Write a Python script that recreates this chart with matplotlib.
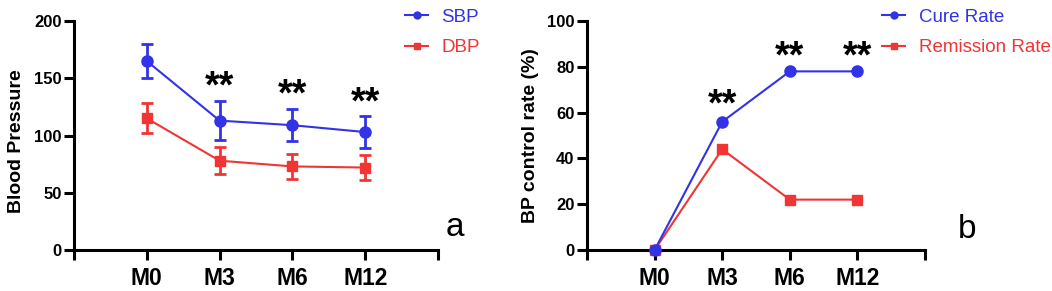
import matplotlib.pyplot as plt
from matplotlib.lines import Line2D
import numpy as np

plt.rcParams['font.family'] = ['Liberation Sans', 'DejaVu Sans']

months = ['M0', 'M3', 'M6', 'M12']

# panel a: blood pressure (mean, sd)
sbp = [165, 113, 109, 103]
sbp_err = [15, 17, 14, 14]
dbp = [115, 78, 73, 72]
dbp_err = [13, 12, 11, 11]
star_a = [None, 142, 135, 128]

# panel b: control rates (%)
cure = [0, 56, 78, 78]
remission = [0, 44, 22, 22]
star_b = [None, 63, 84, 84]

blue = '#3232e6'
red = '#f03535'

fig = plt.figure(figsize=(10.52, 2.91), dpi=100)
W, H = 1052, 291


def make_axes(x0, x1, y0, y1):
    return fig.add_axes([x0 / W, 1 - y1 / H, (x1 - x0) / W, (y1 - y0) / H])


def style(ax, ymax, step):
    x = np.arange(len(months))
    ax.set_xlim(-1, len(months))
    ax.set_ylim(0, ymax)
    ax.tick_params(axis='y', labelsize=12, width=2.2, length=7, pad=2)
    ax.tick_params(axis='x', labelsize=16.5, width=2.2, length=7, pad=5)
    ax.set_xticks(np.arange(-1, len(months) + 1))
    ax.set_xticklabels([''] + months + [''], fontweight='bold', fontsize=16.5)
    ax.set_yticks(np.arange(0, ymax + 1, step))
    for lab in ax.get_yticklabels():
        lab.set_fontweight('bold')
    for s in ['top', 'right']:
        ax.spines[s].set_visible(False)
    for s in ['left', 'bottom']:
        ax.spines[s].set_linewidth(2.2)
    ax.patch.set_alpha(0)
    return x


def add_legend(ax, labels, anchor_x):
    handles = [Line2D([], [], color=blue, marker='o', markersize=5, lw=1.5),
               Line2D([], [], color=red, marker='s', markersize=5, lw=1.5)]
    leg = ax.legend(handles, labels, loc='upper left',
                    bbox_to_anchor=(anchor_x, 1.055), frameon=False, fontsize=13.5,
                    handlelength=1.25, handletextpad=0.7, labelspacing=0.72,
                    borderpad=0, borderaxespad=0)
    for t, c in zip(leg.get_texts(), [blue, red]):
        t.set_color(c)


# panel a
ax1 = make_axes(74, 438, 21, 250)
x = style(ax1, 200, 50)
ax1.set_ylabel('Blood Pressure', fontsize=14, fontweight='bold')
ax1.yaxis.set_label_coords(-0.135, 0.475)
ax1.errorbar(x, sbp, yerr=sbp_err, color=blue, marker='o', markersize=8,
             lw=1.5, elinewidth=2, capsize=4, capthick=2, clip_on=False)
ax1.errorbar(x, dbp, yerr=dbp_err, color=red, marker='s', markersize=7,
             lw=1.5, elinewidth=2, capsize=4, capthick=2, clip_on=False)
for xi, yi in zip(x, star_a):
    if yi is not None:
        ax1.text(xi, yi, '**', ha='center', va='center', fontsize=27,
                 fontweight='bold')
add_legend(ax1, ['SBP', 'DBP'], (405 - 74) / 364)
fig.text(455 / W, 1 - 228 / H, 'a', fontsize=24, ha='center', va='center')

# panel b
ax2 = make_axes(587, 925, 21, 250)
x = style(ax2, 100, 20)
ax2.set_ylabel('BP control rate (%)', fontsize=14, fontweight='bold', labelpad=6)
ax2.plot(x, cure, color=blue, marker='o', markersize=8, lw=1.5,
         clip_on=False, zorder=4)
ax2.plot(x, remission, color=red, marker='s', markersize=7, lw=1.5,
         clip_on=False, zorder=3)
for xi, yi in zip(x, star_b):
    if yi is not None:
        ax2.text(xi, yi, '**', ha='center', va='center', fontsize=27,
                 fontweight='bold')
add_legend(ax2, ['Cure Rate', 'Remission Rate'], (882 - 587) / 338)
fig.text(967 / W, 1 - 230 / H, 'b', fontsize=24, ha='center', va='center')

fig.savefig('out.png', dpi=100)
